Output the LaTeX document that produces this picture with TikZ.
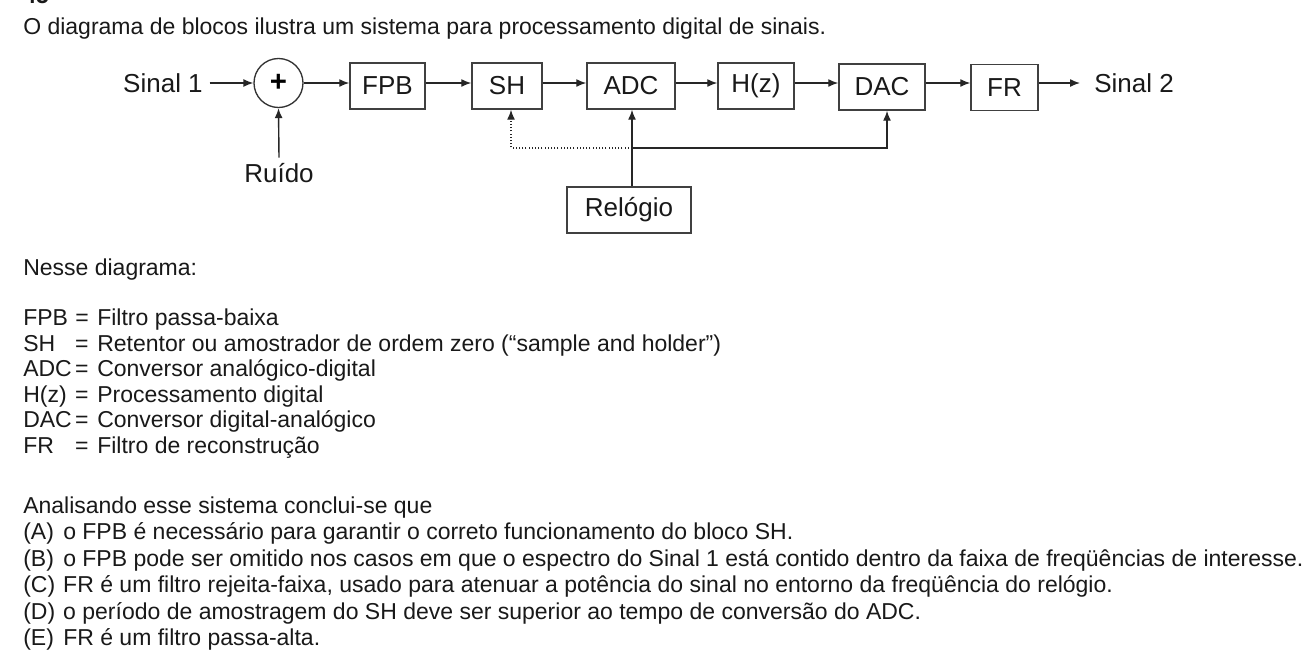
\documentclass[tikz,border=0pt]{standalone}
\usepackage{fontspec}
\setmainfont{Liberation Sans}
\usetikzlibrary{arrows.meta}
\begin{document}
\begin{tikzpicture}[x=0.75pt,y=-0.75pt,
  txt/.style={font=\fontsize{17.25pt}{20pt}\selectfont, text=black!90, inner sep=0pt, anchor=base west},
  lbl/.style={font=\fontsize{19.5pt}{22pt}\selectfont, text=black!90, inner sep=0pt},
  blk/.style={draw=black!75, line width=1.1pt, minimum height=34.5pt, inner sep=0pt, text=black!90, font=\fontsize{19.5pt}{22pt}\selectfont},
  arr/.style={draw=black!85, line width=1.05pt, -{Latex[length=7.5pt,width=6pt]}},
  dotline/.style={dash pattern=on 0.8pt off 1.6pt},
]
\clip (0,0) rectangle (1312,668);
\fill[white] (0,0) rectangle (1312,668);

% question number (cut at the top edge)
\node[txt, font=\bfseries\fontsize{17.25pt}{20pt}\selectfont] (num) at (23,3) {45};
\node[txt] (title) at (23,34) {O diagrama de blocos ilustra um sistema para processamento digital de sinais.};

% diagram
\coordinate (row) at (0,83);
\node[lbl, anchor=east] (s1) at (203,83) {Sinal 1};
\node[circle, draw=black!80, line width=1pt, minimum size=36.75pt, inner sep=0pt,
      font=\bfseries\fontsize{22pt}{22pt}\selectfont] (sum) at (278.5,83) {+};
\node[blk, minimum width=56.25pt] (fpb) at (387.5,86) {FPB};
\node[blk, minimum width=52.5pt] (sh) at (507,86) {SH};
\node[blk, minimum width=66pt] (adc) at (631,86) {ADC};
\node[blk, minimum width=57pt] (hz) at (756,86) {H(z)};
\node[blk, minimum width=64.5pt] (dac) at (882,87) {DAC};
\node[blk, minimum width=50.25pt] (fr) at (1004.5,87.5) {FR};
\node[lbl, anchor=west] (s2) at (1094,83) {Sinal 2};
\node[lbl] (ruido) at (279,173) {Ruído};
\node[blk, minimum width=93pt] (rel) at (629,210) {Relógio};

\draw[arr] ([xshift=5pt]s1.east) -- (sum.west);
\draw[arr] (sum.east) -- (fpb.west |- sum.east);
\draw[arr] (fpb.east |- row) -- (sh.west |- row);
\draw[arr] (sh.east |- row) -- (adc.west |- row);
\draw[arr] (adc.east |- row) -- (hz.west |- row);
\draw[arr] (hz.east |- row) -- (dac.west |- row);
\draw[arr] (dac.east |- row) -- (fr.west |- row);
\draw[arr] (fr.east |- row) -- ([xshift=-10.5pt]s2.west |- row);
\draw[arr] ([yshift=4pt]ruido.north) -- (sum.south);

\coordinate (j) at (632,148);
\coordinate (jd) at (887,148);
\coordinate (js) at (511,148);
\draw[arr] (rel.north -| j) -- (adc.south -| j);
\draw[arr] (j) -- (jd) -- (dac.south -| jd);
\draw[arr, dotline] (j) -- (js) -- (sh.south -| js);

% legend
\node[txt] (nesse) at (23,275) {Nesse diagrama:};
\node[txt] (d1) at (23,325) {\makebox[39pt][l]{FPB}\makebox[16.5pt][l]{=}Filtro passa-baixa};
\node[txt] (d2) at (23,351) {\makebox[39pt][l]{SH}\makebox[16.5pt][l]{=}Retentor ou amostrador de ordem zero (“sample and holder”)};
\node[txt] (d3) at (23,376) {\makebox[39pt][l]{ADC}\makebox[16.5pt][l]{=}Conversor analógico-digital};
\node[txt] (d4) at (23,402) {\makebox[39pt][l]{H(z)}\makebox[16.5pt][l]{=}Processamento digital};
\node[txt] (d5) at (23,427) {\makebox[39pt][l]{DAC}\makebox[16.5pt][l]{=}Conversor digital-analógico};
\node[txt] (d6) at (23,453) {\makebox[39pt][l]{FR}\makebox[16.5pt][l]{=}Filtro de reconstrução};

% options
\node[txt] (anal) at (23,513) {Analisando esse sistema conclui-se que};
\node[txt] (oa) at (23,539.5) {\makebox[30pt][l]{(A)}o FPB é necessário para garantir o correto funcionamento do bloco SH.};
\node[txt] (ob) at (23,566) {\makebox[30pt][l]{(B)}o FPB pode ser omitido nos casos em que o espectro do Sinal 1 está contido dentro da faixa de freqüências de interesse.};
\node[txt] (oc) at (23,592) {\makebox[30pt][l]{(C)}FR é um filtro rejeita-faixa, usado para atenuar a potência do sinal no entorno da freqüência do relógio.};
\node[txt] (od) at (23,619) {\makebox[30pt][l]{(D)}o período de amostragem do SH deve ser superior ao tempo de conversão do ADC.};
\node[txt] (oe) at (23,645) {\makebox[30pt][l]{(E)}FR é um filtro passa-alta.};
\end{tikzpicture}
\end{document}
